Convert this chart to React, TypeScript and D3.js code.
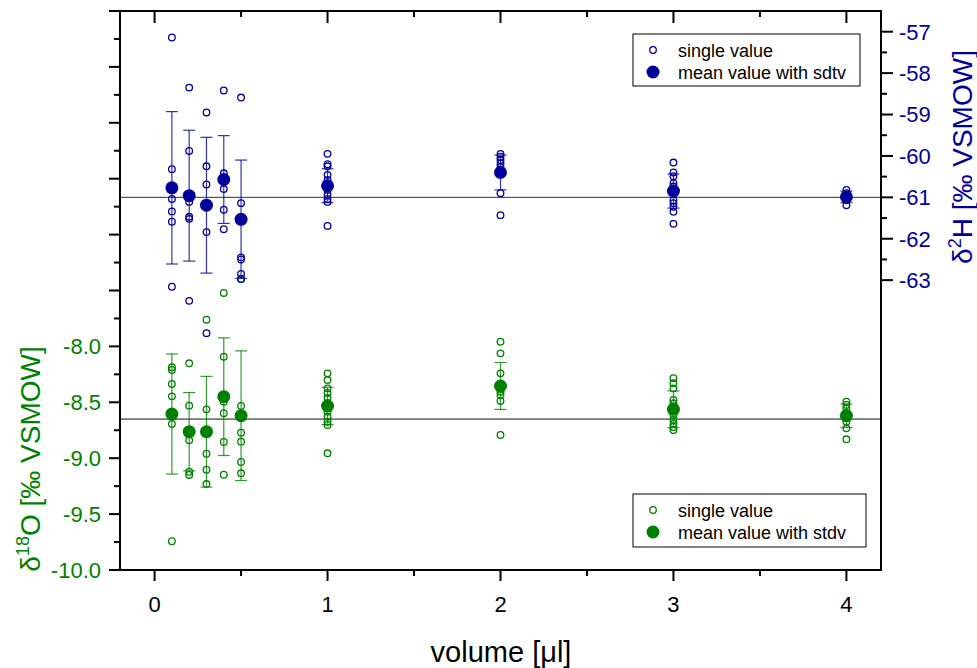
import React from "react";
import * as d3 from "d3";

const volumes = [0.1, 0.2, 0.3, 0.4, 0.5, 1, 2, 3, 4];

const hSingles: number[][] = [
  [-57.14, -60.32, -61.04, -61.34, -61.59, -63.16],
  [-58.35, -59.88, -61.11, -61.47, -61.52, -63.5],
  [-58.95, -60.25, -60.69, -61.84, -64.28],
  [-58.42, -60.42, -60.57, -60.8, -61.3, -61.77],
  [-58.59, -61.14, -61.55, -62.45, -62.5, -62.85, -62.97],
  [-59.95, -60.2, -60.25, -60.46, -60.58, -60.82, -60.94, -61.04, -61.11, -61.69],
  [-59.95, -60.02, -60.1, -60.18, -60.27, -60.39, -60.9, -61.43],
  [-60.16, -60.4, -60.49, -60.66, -60.74, -61.07, -61.14, -61.23, -61.35, -61.64],
  [-60.82, -60.9, -60.99, -61.07, -61.19],
];
const hMeans = [-60.77, -60.96, -61.19, -60.57, -61.53, -60.72, -60.4, -60.85, -60.99];
const hSd = [1.84, 1.58, 1.64, 1.06, 1.43, 0.41, 0.42, 0.41, 0.14];

const oSingles: number[][] = [
  [-8.187, -8.211, -8.336, -8.447, -8.694, -9.743],
  [-8.151, -8.53, -8.84, -9.121, -9.15],
  [-7.761, -8.563, -8.96, -9.103, -9.231],
  [-7.522, -8.092, -8.495, -8.598, -8.855, -9.148],
  [-7.397, -8.533, -8.772, -8.852, -9.034, -9.135],
  [-8.241, -8.301, -8.375, -8.417, -8.462, -8.506, -8.584, -8.629, -8.674, -8.703, -8.956],
  [-7.958, -8.062, -8.241, -8.354, -8.405, -8.435, -8.488, -8.792],
  [-8.285, -8.33, -8.375, -8.479, -8.509, -8.614, -8.658, -8.694, -8.721, -8.748],
  [-8.495, -8.524, -8.554, -8.598, -8.64, -8.674, -8.733, -8.831],
];
const oMeans = [-8.605, -8.763, -8.763, -8.45, -8.62, -8.533, -8.354, -8.563, -8.62];
const oSd = [0.537, 0.35, 0.495, 0.526, 0.58, 0.167, 0.21, 0.164, 0.105];

const hRef = -61.0;
const oRef = -8.65;

const xTicks = [0, 1, 2, 3, 4];
const oTickLabels = [-10.0, -9.5, -9.0, -8.5, -8.0];
const hTickLabels = [-57, -58, -59, -60, -61, -62, -63];

const BLUE = "#000099";
const GREEN = "#008000";
const FONT = "'Liberation Sans', Arial, sans-serif";

const W = 977;
const H = 668;
const L = 120, R = 881, T = 11, B = 570;

export default function App() {
  const x = d3.scaleLinear().domain([-0.2, 4.2]).range([L, R]);
  const yO = d3.scaleLinear().domain([-10, -5]).range([B, T]);
  const yH = d3.scaleLinear().domain([-70, -56.5]).range([B, T]);

  const xMinor = d3.range(0.5, 4, 1);
  const oAllTicks = d3.range(-10, -4.99, 0.25);
  const hAllTicks = d3.range(-63, -56.99, 0.5);

  const renderSeries = (
    singles: number[][],
    means: number[],
    sds: number[],
    y: d3.ScaleLinear<number, number>,
    color: string
  ) => (
    <g>
      {singles.map((col, i) =>
        col.map((v, j) => (
          <circle key={`s${i}-${j}`} cx={x(volumes[i])} cy={y(v)} r={3.3} fill="none" stroke={color} strokeWidth={1.3} />
        ))
      )}
      {means.map((m, i) => {
        const cx = x(volumes[i]);
        const y1 = y(m + sds[i]);
        const y2 = y(m - sds[i]);
        return (
          <g key={`e${i}`} stroke={color} strokeWidth={1.2} strokeOpacity={0.8}>
            <line x1={cx} x2={cx} y1={y1} y2={y2} />
            <line x1={cx - 6} x2={cx + 6} y1={y1} y2={y1} />
            <line x1={cx - 6} x2={cx + 6} y1={y2} y2={y2} />
          </g>
        );
      })}
      {means.map((m, i) => (
        <circle key={`m${i}`} cx={x(volumes[i])} cy={y(m)} r={6.5} fill={color} />
      ))}
    </g>
  );

  return (
    <svg width={W} height={H} style={{ position: "absolute", left: 0, top: 0, background: "#fff" }} fontFamily={FONT}>
      {/* reference lines */}
      <line x1={L} x2={R} y1={yH(hRef)} y2={yH(hRef)} stroke="#333" strokeWidth={1} />
      <line x1={L} x2={R} y1={yO(oRef)} y2={yO(oRef)} stroke="#111" strokeWidth={1} />

      {renderSeries(oSingles, oMeans, oSd, yO, GREEN)}
      {renderSeries(hSingles, hMeans, hSd, yH, BLUE)}

      {/* frame */}
      <rect x={L} y={T} width={R - L} height={B - T} fill="none" stroke="#000" strokeWidth={2} />

      {/* bottom / top axis ticks */}
      {xTicks.map((t) => (
        <g key={`xt${t}`}>
          <line x1={x(t)} x2={x(t)} y1={B} y2={B + 11} stroke="#000" strokeWidth={2} />
          <line x1={x(t)} x2={x(t)} y1={T} y2={T + 12} stroke="#000" strokeWidth={2} />
          <text x={x(t)} y={B + 42} textAnchor="middle" fontSize={22} fill="#000">{t}</text>
        </g>
      ))}
      {xMinor.map((t) => (
        <g key={`xm${t}`}>
          <line x1={x(t)} x2={x(t)} y1={B} y2={B + 6} stroke="#000" strokeWidth={2} />
          <line x1={x(t)} x2={x(t)} y1={T} y2={T + 6} stroke="#000" strokeWidth={2} />
        </g>
      ))}

      {/* left axis ticks */}
      {oAllTicks.map((t, i) => {
        const major = i % 2 === 0;
        return (
          <line key={`ol${i}`} x1={L - (major ? 11 : 6)} x2={L} y1={yO(t)} y2={yO(t)} stroke="#000" strokeWidth={2} />
        );
      })}
      {oTickLabels.map((t) => (
        <text key={`olab${t}`} x={L - 19} y={yO(t)} dy="0.36em" textAnchor="end" fontSize={22} fill={GREEN}>
          {d3.format(".1f")(t).replace("−", "-")}
        </text>
      ))}

      {/* right axis ticks */}
      {hAllTicks.map((t, i) => {
        const major = i % 2 === 0;
        return (
          <line key={`hr${i}`} x1={R} x2={R + (major ? 12 : 6)} y1={yH(t)} y2={yH(t)} stroke="#000" strokeWidth={2} />
        );
      })}
      {hTickLabels.map((t) => (
        <text key={`hlab${t}`} x={R + 18} y={yH(t)} dy="0.36em" textAnchor="start" fontSize={22} fill={BLUE}>
          {String(t)}
        </text>
      ))}

      {/* axis titles */}
      <text x={501} y={662} textAnchor="middle" fontSize={29} fill="#000">volume [μl]</text>
      <text transform="translate(40,459) rotate(-90)" textAnchor="middle" fontSize={28} fill={GREEN}>
        δ<tspan dy={-11} fontSize={18}>18</tspan><tspan dy={11}>O [‰ VSMOW]</tspan>
      </text>
      <text transform="translate(972,157) rotate(-90)" textAnchor="middle" fontSize={28} fill={BLUE}>
        δ<tspan dy={-11} fontSize={18}>2</tspan><tspan dy={11}>H [‰ VSMOW]</tspan>
      </text>

      {/* top legend */}
      <g>
        <rect x={633} y={34} width={227} height={52} fill="#fff" stroke="#000" strokeWidth={1} />
        <circle cx={653} cy={50} r={3.3} fill="none" stroke={BLUE} strokeWidth={1.3} />
        <text x={678} y={57} fontSize={18} fill="#000">single value</text>
        <circle cx={653} cy={72} r={6.5} fill={BLUE} />
        <text x={678} y={79} fontSize={18} fill="#000">mean value with sdtv</text>
      </g>

      {/* bottom legend */}
      <g>
        <rect x={633} y={494} width={233} height={53} fill="#fff" stroke="#000" strokeWidth={1} />
        <circle cx={653} cy={510} r={3.3} fill="none" stroke={GREEN} strokeWidth={1.3} />
        <text x={678} y={517} fontSize={18} fill="#000">single value</text>
        <circle cx={653} cy={532} r={6.5} fill={GREEN} />
        <text x={678} y={539} fontSize={18} fill="#000">mean value with stdv</text>
      </g>
    </svg>
  );
}
